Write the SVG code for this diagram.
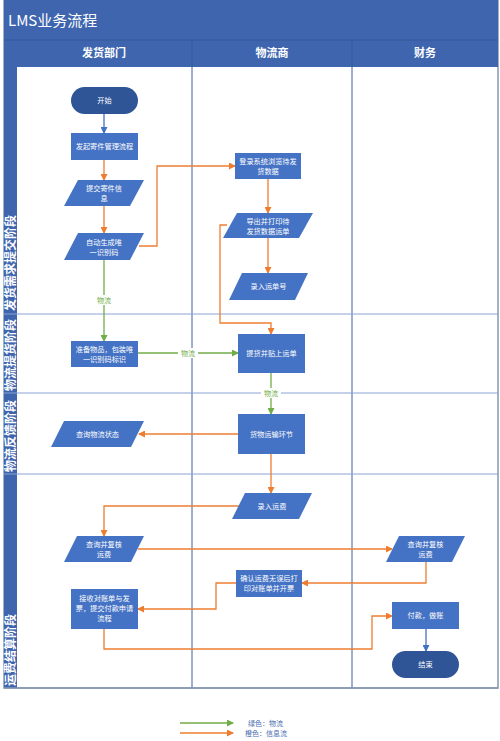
<svg xmlns="http://www.w3.org/2000/svg" width="500" height="741" viewBox="0 0 500 741">
<defs>
<style>
.bar{fill:#3e65ae}
.lane{stroke:#3f5f9e;stroke-width:1;fill:none}
.row{stroke:#8aa3d2;stroke-width:1.2;fill:none}
.proc{fill:#4472c4}
.term{fill:#2f5597}
.t{font-family:"Noto Sans CJK SC","Noto Sans",sans-serif;font-size:7.2px;fill:#ffffff;text-anchor:middle}
.hd{font-family:"Noto Sans CJK SC","Noto Sans",sans-serif;font-size:11px;font-weight:bold;fill:#ffffff;text-anchor:middle}
.ph{font-family:"Noto Sans CJK SC","Noto Sans",sans-serif;font-size:12px;font-weight:bold;fill:#ffffff;text-anchor:start}
.o{stroke:#ed7d31;stroke-width:1.3;fill:none;marker-end:url(#ao)}
.g{stroke:#70ad47;stroke-width:1.3;fill:none;marker-end:url(#ag)}
.b{stroke:#4472c4;stroke-width:1.3;fill:none;marker-end:url(#ab)}
.gl{font-family:"Noto Sans CJK SC","Noto Sans",sans-serif;font-size:7px;fill:#70ad47;text-anchor:middle}
.lg{font-family:"Noto Sans CJK SC","Noto Sans",sans-serif;font-size:7px;fill:#4a6db0}
</style>
<marker id="ao" markerWidth="7" markerHeight="7" refX="6" refY="3.5" orient="auto" markerUnits="userSpaceOnUse"><path d="M0,0 L7,3.5 L0,7 z" fill="#ed7d31"/></marker>
<marker id="ag" markerWidth="7" markerHeight="7" refX="6" refY="3.5" orient="auto" markerUnits="userSpaceOnUse"><path d="M0,0 L7,3.5 L0,7 z" fill="#70ad47"/></marker>
<marker id="ab" markerWidth="7" markerHeight="7" refX="6" refY="3.5" orient="auto" markerUnits="userSpaceOnUse"><path d="M0,0 L7,3.5 L0,7 z" fill="#4472c4"/></marker>
</defs>
<rect width="500" height="741" fill="#ffffff"/>
<g id="frame">
<rect x="4" y="0" width="494" height="688" fill="#ffffff" stroke="#8497b0" stroke-width="1.5"/>
<rect class="bar" x="4" y="0" width="494" height="67"/>
<rect class="bar" x="4" y="40" width="13" height="648"/>
<line x1="4" y1="40" x2="498" y2="40" stroke="#36589a" stroke-width="1"/>
<line x1="192" y1="40" x2="192" y2="67" stroke="#36589a" stroke-width="1"/>
<line x1="352" y1="40" x2="352" y2="67" stroke="#36589a" stroke-width="1"/>
<text x="8" y="26" font-family="'Noto Sans CJK SC','Noto Sans',sans-serif" font-size="15" fill="#ffffff">LMS业务流程</text>
<text class="hd" x="104" y="57">发货部门</text>
<text class="hd" x="272" y="57">物流商</text>
<text class="hd" x="425" y="57">财务</text>
<line class="lane" x1="192" y1="67" x2="192" y2="688"/>
<line class="lane" x1="352" y1="67" x2="352" y2="688" stroke="#7f8fa8"/>
<line class="row" x1="4" y1="314" x2="498" y2="314"/>
<line class="row" x1="4" y1="393" x2="498" y2="393"/>
<line class="row" x1="4" y1="474" x2="498" y2="474"/>
<line x1="4" y1="688" x2="498" y2="688" stroke="#8497b0" stroke-width="1.5"/>
<text class="ph" transform="translate(15,311) rotate(-90)">发货需求提交阶段</text>
<text class="ph" transform="translate(15,391) rotate(-90)">物流提货阶段</text>
<text class="ph" transform="translate(15,472) rotate(-90)">物流反馈阶段</text>
<text class="ph" transform="translate(15,686) rotate(-90)">运费结算阶段</text>
</g>
<g id="connectors">
<path class="b" d="M104,114 V133"/>
<path class="o" d="M104,160 V180"/>
<path class="o" d="M104,206 V233"/>
<path class="o" d="M139,246 H157 V166 H235"/>
<path class="o" d="M268,179 V213"/>
<path class="o" d="M268,238 V273"/>
<path class="o" d="M227,225 H220 V323 H271 V334"/>
<path class="g" d="M104,260 V341"/>
<rect x="94" y="295" width="20" height="10" fill="#ffffff"/>
<text class="gl" x="104" y="302.5">物流</text>
<path class="g" d="M138,353 H238"/>
<rect x="178" y="348" width="20" height="10" fill="#ffffff"/>
<text class="gl" x="188" y="355.5">物流</text>
<path class="g" d="M271,373 V414"/>
<rect x="261" y="388" width="20" height="10" fill="#ffffff"/>
<text class="gl" x="271" y="395.5">物流</text>
<path class="o" d="M238,434 H139"/>
<path class="o" d="M271,454 V493"/>
<path class="o" d="M239,506 H104 V536"/>
<path class="o" d="M138,549 H392"/>
<path class="o" d="M426,562 V583 H302"/>
<path class="o" d="M236,583 H216 V609 H138"/>
<path class="o" d="M104,629 V649 H372 V616 H392"/>
<path class="b" d="M426,629 V651"/>
</g>
<g id="n-start"><rect class="term" x="71" y="87" width="67" height="27" rx="13.5"/><text class="t" x="104.5" y="103">开始</text></g>
<g id="n-launch"><rect class="proc" x="71" y="133" width="67" height="27"/><text class="t" x="104.5" y="149">发起寄件管理流程</text></g>
<g id="n-submit"><polygon class="proc" points="78,180 144,180 130,206 64,206"/><text class="t" x="104" y="191">提交寄件信</text><text class="t" x="104" y="201">息</text></g>
<g id="n-auto"><polygon class="proc" points="78,233 144,233 130,260 64,260"/><text class="t" x="104" y="244.5">自动生成唯</text><text class="t" x="104" y="254.5">一识别码</text></g>
<g id="n-login"><rect class="proc" x="235" y="153" width="66" height="26"/><text class="t" x="268" y="163.5">登录系统浏览待发</text><text class="t" x="268" y="173.5">货数据</text></g>
<g id="n-export"><polygon class="proc" points="237,213 313,213 299,238 223,238"/><text class="t" x="268" y="223.5">导出并打印待</text><text class="t" x="268" y="233.5">发货数据运单</text></g>
<g id="n-waybill"><polygon class="proc" points="242,273 308,273 295,300 229,300"/><text class="t" x="268.5" y="289">录入运单号</text></g>
<g id="n-prepare"><rect class="proc" x="71" y="341" width="67" height="26"/><text class="t" x="104.5" y="351.5">准备物品，包装唯</text><text class="t" x="104.5" y="361.5">一识别码标识</text></g>
<g id="n-pickup"><rect class="proc" x="238" y="334" width="67" height="39"/><text class="t" x="271.5" y="356">提货并贴上运单</text></g>
<g id="n-query"><polygon class="proc" points="64,421 144,421 131,447 51,447"/><text class="t" x="97.5" y="436.5">查询物流状态</text></g>
<g id="n-transport"><rect class="proc" x="238" y="414" width="67" height="40"/><text class="t" x="271.5" y="436.5">货物运输环节</text></g>
<g id="n-fee"><polygon class="proc" points="245,493 312,493 299,519 232,519"/><text class="t" x="272" y="508.5">录入运费</text></g>
<g id="n-check1"><polygon class="proc" points="77,536 144,536 131,562 64,562"/><text class="t" x="104" y="546.5">查询并复核</text><text class="t" x="104" y="556.5">运费</text></g>
<g id="n-check2"><polygon class="proc" points="399,536 465,536 452,562 386,562"/><text class="t" x="425.5" y="546.5">查询并复核</text><text class="t" x="425.5" y="556.5">运费</text></g>
<g id="n-confirm"><rect class="proc" x="236" y="570" width="66" height="27"/><text class="t" x="269" y="581">确认运费无误后打</text><text class="t" x="269" y="591">印对账单并开票</text></g>
<g id="n-receive"><rect class="proc" x="71" y="589" width="67" height="40"/><text class="t" x="104.5" y="601">接收对账单与发</text><text class="t" x="104.5" y="611">票，提交付款申请</text><text class="t" x="104.5" y="621">流程</text></g>
<g id="n-pay"><rect class="proc" x="392" y="602" width="67" height="27"/><text class="t" x="425.5" y="618">付款，做账</text></g>
<g id="n-end"><rect class="term" x="392" y="651" width="67" height="27" rx="13.5"/><text class="t" x="425.5" y="667">结束</text></g>
<g id="legend">
<path class="g" d="M180,723 H233"/>
<path class="o" d="M180,733 H233"/>
<text class="lg" x="248" y="725.5">绿色：物流</text>
<text class="lg" x="245" y="735.5">橙色：信息流</text>
</g>
</svg>
